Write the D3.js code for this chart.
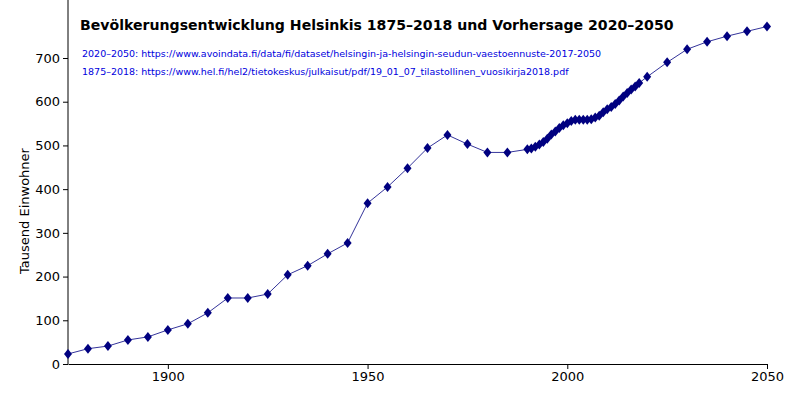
<!DOCTYPE html><html><head><meta charset="utf-8"><script src="https://cdn.jsdelivr.net/npm/d3@7"></script>
<style>body{margin:0;background:#fff}text{font-family:"DejaVu Sans",sans-serif}</style></head><body><svg id="c" width="800" height="404"></svg>
<script>
const years=[1875,1880,1885,1890,1895,1900,1905,1910,1915,1920,1925,1930,1935,1940,1945,1950,1955,1960,1965,1970,1975,1980,1985,
1990,1991,1992,1993,1994,1995,1996,1997,1998,1999,2000,2001,2002,2003,2004,2005,2006,2007,2008,2009,2010,2011,2012,2013,2014,2015,2016,2017,2018,
2020,2025,2030,2035,2040,2045,2050];
const population=[23,35,41,55,62,78,92,117,151,151,160,204,225,252,277,368,405,448,494,524,503,484,484,
491,493,497,502,508,515,525,532,540,546,551,556,559,559,559,559,560,564,568,576,583,588,595,603,612,620,628,635,643,
657,690,720,737,750,761,772];
const xTicks=[1900,1950,2000,2050];
const yTicks=[0,100,200,300,400,500,600,700];
const title="Bevölkerungsentwicklung Helsinkis 1875–2018 und Vorhersage 2020–2050";
const sources=["2020–2050: https://www.avoindata.fi/data/fi/dataset/helsingin-ja-helsingin-seudun-vaestoennuste-2017-2050",
"1875–2018: https://www.hel.fi/hel2/tietokeskus/julkaisut/pdf/19_01_07_tilastollinen_vuosikirja2018.pdf"];
const yLabel="Tausend Einwohner";

const svg=d3.select("#c");
const x=d3.scaleLinear().domain([1875,2050]).range([68,767]);
const y=d3.scaleLinear().domain([0,700]).range([364,58]);
const data=years.map((d,i)=>({x:d,y:population[i]}));
svg.append("g").attr("transform","translate(0,364)").call(d3.axisBottom(x).tickValues(xTicks).tickFormat(d3.format("d")).tickSize(5).tickSizeOuter(0))
 .call(g=>g.selectAll("text").attr("font-size",13).attr("font-family","DejaVu Sans"));
svg.append("g").attr("transform","translate(68,0)").call(d3.axisLeft(y).tickValues(yTicks).tickSize(5).tickSizeOuter(0))
 .call(g=>g.select(".domain").attr("d","M0,364V0"))
 .call(g=>g.selectAll("text").attr("font-size",13).attr("font-family","DejaVu Sans"));
svg.append("path").datum(data).attr("fill","none").attr("stroke","#000080").attr("stroke-width",0.8)
 .attr("d",d3.line().x(d=>x(d.x)).y(d=>y(d.y)));
svg.selectAll(".m").data(data).enter().append("path").attr("fill","#000080")
 .attr("transform",d=>`translate(${x(d.x)},${y(d.y)})`).attr("d","M0,-5L4,0L0,5L-4,0Z");
svg.append("text").attr("x",80).attr("y",30).attr("font-size",14.1).attr("font-weight","bold").text(title);
sources.forEach((s,i)=>svg.append("text").attr("x",82).attr("y",57+i*18).attr("font-size",9.5).attr("fill","#0000dd").text(s));
svg.append("text").attr("transform","translate(29,211) rotate(-90)").attr("text-anchor","middle").attr("font-size",13).text(yLabel);
</script></body></html>
